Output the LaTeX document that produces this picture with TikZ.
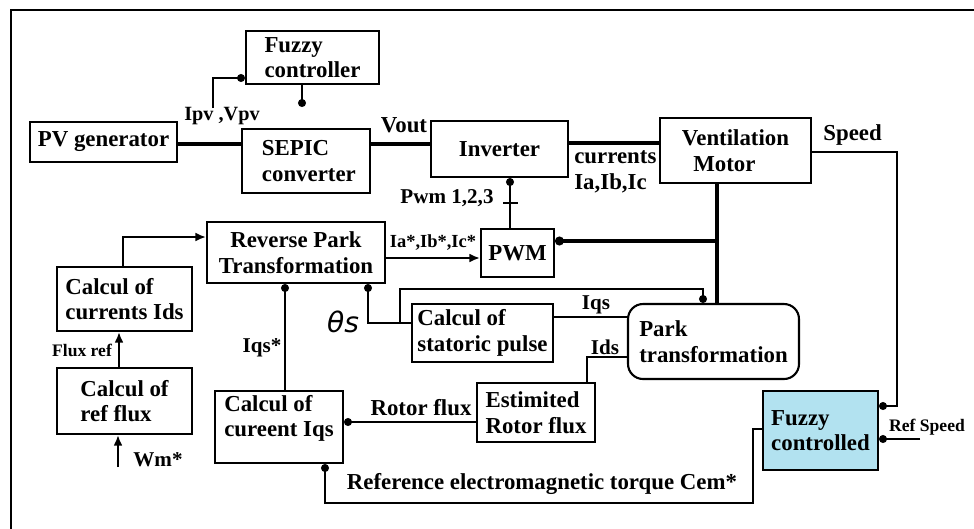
\documentclass[tikz,border=0pt]{standalone}
\usepackage{fontspec}
\setmainfont{Liberation Serif}
\newfontfamily\thetafont{DejaVu Sans}
\usepackage{xcolor}
\usepackage{tikz}
\usetikzlibrary{calc,arrows.meta,positioning,shapes}
\definecolor{fuzzyfill}{RGB}{178,226,240}

\begin{document}
\begin{tikzpicture}[x=0.02cm,y=-0.02cm]
    \tikzset{blk/.style={draw,line width=1.2pt,inner sep=2pt,align=left,font=\bfseries\fontsize{13}{14.5}\selectfont},
      lbl/.style={inner sep=0pt,font=\bfseries\fontsize{13}{14.5}\selectfont},
      slbl/.style={inner sep=0pt,font=\bfseries\fontsize{10}{11}\selectfont},
      bus/.style={line width=2.8pt},
      sig/.style={line width=1.1pt},
      dotarr/.style={sig,-{Circle[length=4.5pt]}},
      tri/.style={sig,-{Latex[length=6pt,width=5pt]}},
      tick/.style={fill,inner sep=0pt,minimum width=0.3cm,minimum height=1.6pt}}
    \useasboundingbox (0,0) rectangle (974,528);
    \clip (0,0) rectangle (974,528);
    \draw[line width=1.3pt] (11,10) rectangle (1000,560);
    % blocks
    \node[blk,minimum width=2.66cm,minimum height=1.06cm] (fuzc) at (312.5,57.5) {Fuzzy\\controller};
    \node[blk,minimum width=2.94cm,minimum height=0.80cm] (pvg) at (103.5,142) {PV generator};
    \node[blk,minimum width=2.56cm,minimum height=1.28cm] (sepic) at (306,161) {\ SEPIC\\\ converter};
    \node[blk,minimum width=2.74cm,minimum height=1.12cm] (inv) at (499.5,149) {Inverter};
    \node[blk,minimum width=3.02cm,minimum height=1.30cm] (motor) at (735.5,150.5) {Ventilation\\\ \ Motor};
    \node[blk,minimum width=1.46cm,minimum height=0.96cm] (pwm) at (517.5,253) {PWM};
    \node[blk,align=center,minimum width=3.56cm,minimum height=1.22cm] (rpt) at (296,252.5) {Reverse Park\\Transformation};
    \node[blk,minimum width=2.70cm,minimum height=1.28cm] (cids) at (124.5,299) {Calcul of\\currents Ids};
    \node[blk,minimum width=2.70cm,minimum height=1.32cm] (cflux) at (124.5,401) {Calcul of\\ref flux};
    \node[blk,minimum width=2.56cm,minimum height=1.44cm,text depth=0.45cm] (ciqs) at (279,427) {Calcul of\\cureent Iqs};
    \node[blk,minimum width=2.82cm,minimum height=1.16cm] (stat) at (482.5,333) {Calcul of\\statoric pulse};
    \node[blk,rounded corners=0.3cm,minimum width=3.42cm,minimum height=1.50cm] (park) at (713.5,341.5) {Park\\transformation};
    \node[blk,minimum width=2.36cm,minimum height=1.18cm] (est) at (536,412.5) {Estimited\\Rotor flux};
    \node[blk,fill=fuzzyfill,minimum width=2.30cm,minimum height=1.58cm] (fuzd) at (820.5,430.5) {Fuzzy\\controlled};
    % free ends and junctions
    \coordinate (ipv) at (213,108);
    \coordinate (wm) at (118,467);
    \coordinate (refsp) at (920,439);
    \coordinate (jm) at (717,241);
    \coordinate (jt) at (400,323);
    % power path
    \draw[bus] (pvg.east |- 0,144) -- (sepic.west |- 0,144);
    \draw[bus] (sepic.east |- 0,144) -- (inv.west |- 0,144);
    \draw[bus] (inv.east |- 0,143) -- (motor.west |- 0,143);
    \draw[bus] (motor.south -| jm) -- (park.north -| jm);
    \draw[bus,-{Circle[length=5pt]}] (jm) -- (pwm.east |- jm);
    % signals
    \draw[dotarr] (ipv) |- (fuzc.west |- 0,78);
    \draw[dotarr,shorten >=0.42cm] (fuzc.south -| 302,0) -- (sepic.north -| 302,0);
    \draw[dotarr] (pwm.north -| 510,0) -- node[tick,pos=0.5]{} (inv.south -| 510,0);
    \draw[tri] (rpt.east |- 0,258) -- (pwm.west |- 0,258);
    \draw[tri] (cids.north -| 123,0) |- (rpt.west |- 0,237);
    \draw[tri] (cflux.north -| 119,0) -- (cids.south -| 119,0);
    \draw[tri] (wm) -- (cflux.south -| wm);
    \draw[dotarr] (ciqs.north -| 285,0) -- (rpt.south -| 285,0);
    \draw[dotarr] (stat.west |- jt) -| (rpt.south -| 368,0);
    \draw[dotarr] (jt) |- (703,289) -- (park.north -| 703,0);
    \draw[sig] (stat.east |- 0,317) -- (park.west |- 0,317);
    \draw[sig] (park.west |- 0,357) -| (est.north -| 587,0);
    \draw[dotarr] (est.west |- 0,422) -- (ciqs.east |- 0,422);
    \draw[dotarr] (motor.east |- 0,152) -| (897,406) -- (fuzd.east |- 0,406);
    \draw[dotarr] (refsp) -- (fuzd.east |- refsp);
    \draw[dotarr] (fuzd.west |- 0,429) -- (753,429) |- (325,503) -- (ciqs.south -| 325,0);
    % labels
    \node[lbl,font=\bfseries\fontsize{11.5}{13}\selectfont] (lipv) at (222,116) {Ipv ,Vpv};
    \node[lbl] (lvout) at (404,125) {Vout};
    \node[lbl,align=left,anchor=west] (lcur) at (574,172) {currents\\Ia,Ib,Ic};
    \node[lbl,anchor=west] (lspeed) at (823,135) {Speed};
    \node[lbl,font=\bfseries\fontsize{12}{13}\selectfont] (lpwm) at (447,198) {Pwm 1,2,3};
    \node[slbl,font=\bfseries\fontsize{10.5}{12}\selectfont] (liabc) at (433,243) {Ia*,Ib*,Ic*};
    \node[slbl] (lflux) at (82,350) {Flux ref};
    \node[lbl,font=\bfseries\fontsize{12}{13}\selectfont] (lwm) at (158,460) {Wm*};
    \node[lbl,font=\bfseries\fontsize{12}{13}\selectfont] (liqsr) at (262,348) {Iqs*};
    \node[lbl,font=\thetafont\itshape\fontsize{16}{18}\selectfont] (ltheta) at (343,322) {θs};
    \node[lbl,font=\bfseries\fontsize{12}{13}\selectfont] (liqs) at (596,305) {Iqs};
    \node[lbl,font=\bfseries\fontsize{12}{13}\selectfont] (lids) at (605,347) {Ids};
    \node[lbl] (lrot) at (421,408) {Rotor flux};
    \node[slbl] (lref) at (927,427) {Ref Speed};
    \node[lbl] (lcem) at (542,484) {Reference electromagnetic torque Cem*};
  \end{tikzpicture}
\end{document}
